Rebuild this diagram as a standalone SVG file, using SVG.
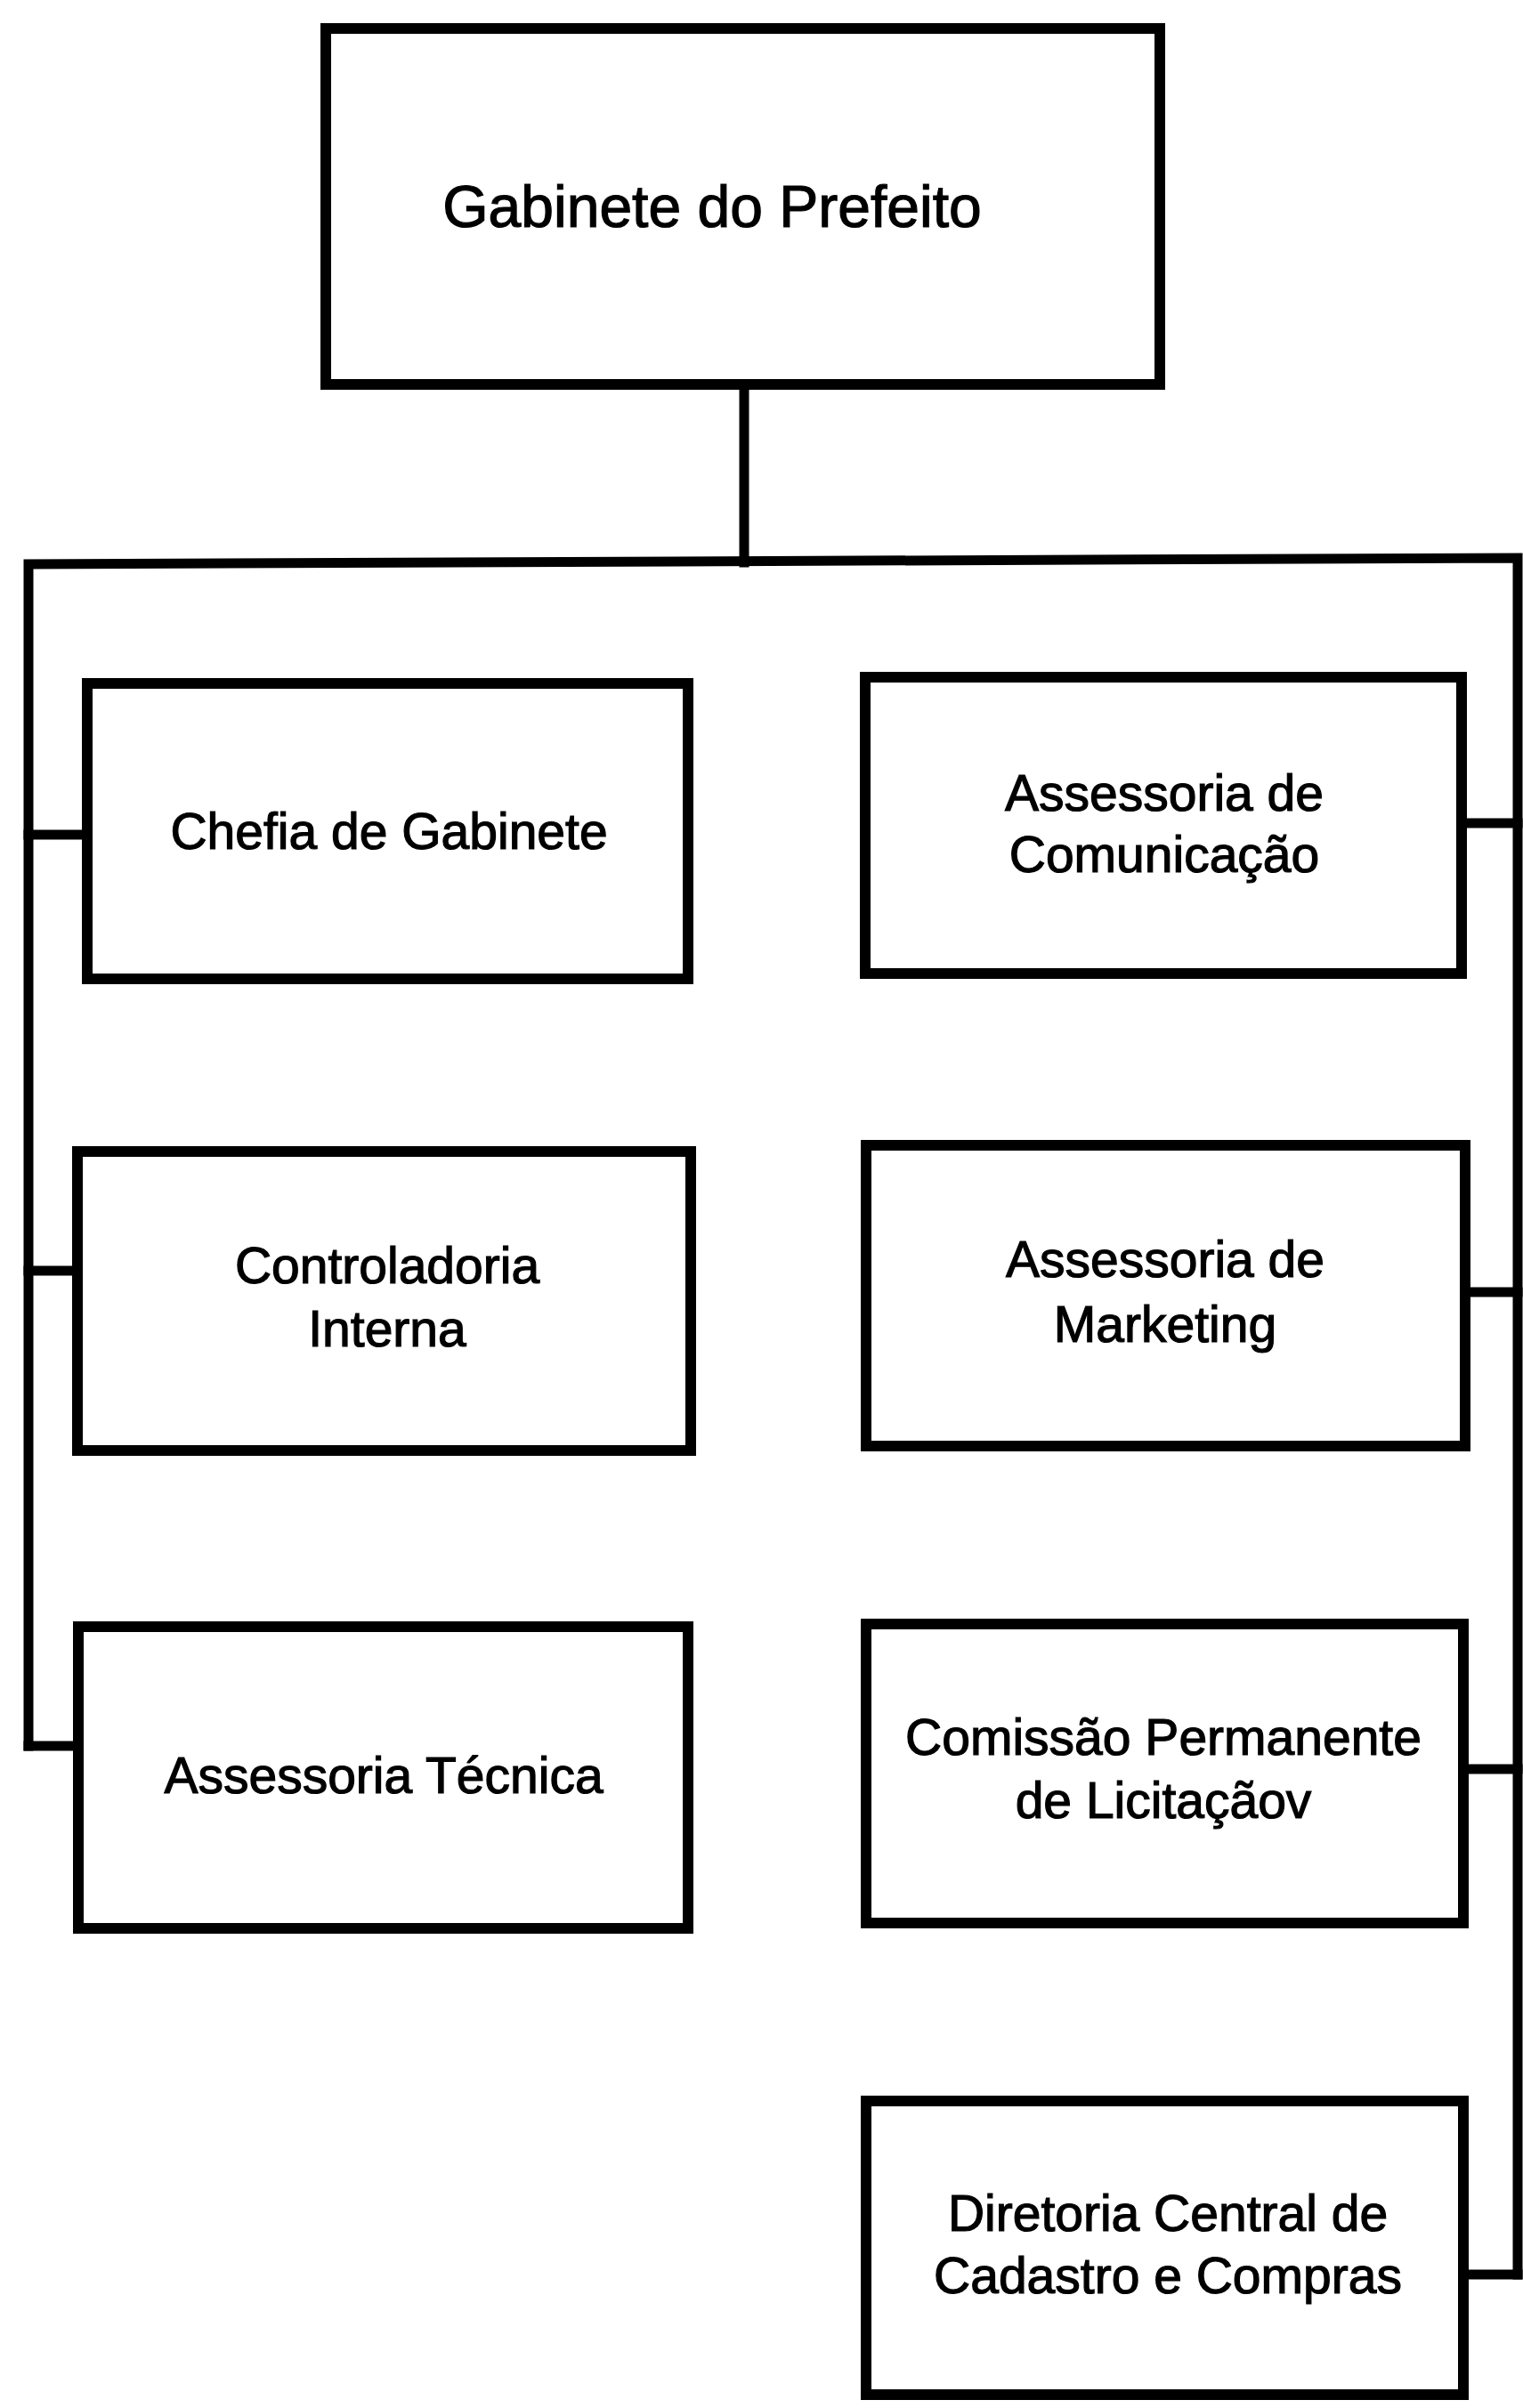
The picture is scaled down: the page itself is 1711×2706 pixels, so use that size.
<svg xmlns="http://www.w3.org/2000/svg" width="1711" height="2706" viewBox="0 0 1711 2706">
<style>
.box{fill:#fff;stroke:#000;stroke-width:12}
.con{fill:none;stroke:#000;stroke-width:11;stroke-linecap:square;stroke-linejoin:miter}
text{font-family:"Liberation Sans",Arial,sans-serif;fill:#000;stroke:#000;stroke-width:1.2;text-anchor:middle}
.t{font-size:57px}
.big{font-size:66px}
</style>
<rect width="1711" height="2706" fill="#fff"/>
<g id="connectors">
<path class="con" d="M836 436 V632"/>
<path class="con" d="M32 1962 V634 L1705 627 V2556"/>
<path class="con" d="M32 938 H92"/>
<path class="con" d="M32 1428 H81"/>
<path class="con" d="M32 1962 H82"/>
<path class="con" d="M1648 925 H1705"/>
<path class="con" d="M1652 1452 H1705"/>
<path class="con" d="M1650 1988 H1705"/>
<path class="con" d="M1650 2556 H1705"/>
</g>
<g id="gabinete-prefeito">
<rect class="box" x="366" y="32" width="937" height="400"/>
<text class="big" x="800" y="255">Gabinete do Prefeito</text>
</g>
<g id="chefia-gabinete">
<rect class="box" x="98" y="768" width="675" height="332"/>
<text class="t" x="437" y="954">Chefia de Gabinete</text>
</g>
<g id="controladoria-interna">
<rect class="box" x="87" y="1294" width="689" height="336"/>
<text class="t" x="435" y="1442">Controladoria</text>
<text class="t" x="435" y="1513">Interna</text>
</g>
<g id="assessoria-tecnica">
<rect class="box" x="88" y="1828" width="685" height="339"/>
<text class="t" x="431" y="2015">Assessoria Técnica</text>
</g>
<g id="assessoria-comunicacao">
<rect class="box" x="972" y="761" width="670" height="333"/>
<text class="t" x="1308" y="911">Assessoria de</text>
<text class="t" x="1308" y="980">Comunicação</text>
</g>
<g id="assessoria-marketing">
<rect class="box" x="973" y="1287" width="673" height="338"/>
<text class="t" x="1309" y="1435">Assessoria de</text>
<text class="t" x="1309" y="1508">Marketing</text>
</g>
<g id="comissao-licitacao">
<rect class="box" x="973" y="1825" width="671" height="336"/>
<text class="t" x="1307" y="1972">Comissão Permanente</text>
<text class="t" x="1307" y="2043">de Licitaçãov</text>
</g>
<g id="diretoria-cadastro-compras">
<rect class="box" x="973" y="2361" width="671" height="330"/>
<text class="t" x="1312" y="2507">Diretoria Central de</text>
<text class="t" x="1312" y="2577">Cadastro e Compras</text>
</g>
</svg>
